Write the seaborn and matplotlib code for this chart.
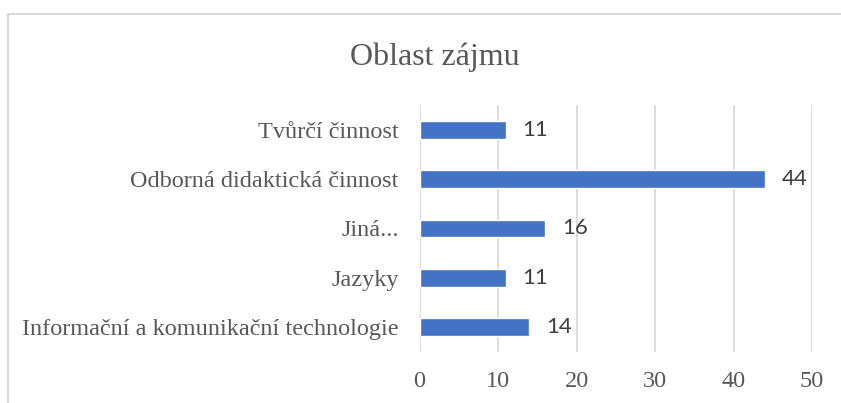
import matplotlib
matplotlib.use("Agg")
import matplotlib.pyplot as plt
import seaborn as sns
import pandas as pd
from matplotlib.patches import Rectangle

categories = ["Tvůrčí činnost", "Odborná didaktická činnost", "Jiná...", "Jazyky",
              "Informační a komunikační technologie"]
values = [11, 44, 16, 11, 14]
x_ticks = [0, 10, 20, 30, 40, 50]

sns.set_theme(style="white")
plt.rcParams['font.family'] = ['Liberation Serif', 'DejaVu Serif']

df = pd.DataFrame({"cat": categories, "val": values})

fig = plt.figure(figsize=(8.41, 4.03), dpi=100)
ax = fig.add_axes([419.5 / 841, 1 - 352 / 403, (812 - 419.5) / 841, (352 - 105) / 403])

sns.barplot(data=df, x="val", y="cat", order=categories, color="#4472C4",
            width=0.36, saturation=1, ax=ax, orient="h")

ax.set_xlim(0, 50)
ax.set_ylim(4.5, -0.5)
ax.set_xticks(x_ticks)
ax.set_xlabel("")
ax.set_ylabel("")
ax.grid(axis="x", color="#d9d9d9", linewidth=1.3)
ax.set_axisbelow(True)
for s in ax.spines.values():
    s.set_visible(False)
ax.tick_params(axis="both", length=0, colors="#595959", labelsize=17.5)
ax.tick_params(axis="y", pad=15)
ax.tick_params(axis="x", pad=14)

for c in ax.containers:
    ax.bar_label(c, padding=12, fontsize=16, color="#404040", family=["Lato", "DejaVu Sans"])

fig.text(435 / 841, 1 - 65 / 403, "Oblast zájmu", ha="center", va="baseline",
         fontsize=23, color="#595959")

fig.patches.append(Rectangle((8 / 841, -0.1), 1.2, 1 - 14 / 403 + 0.1, transform=fig.transFigure,
                             fill=False, edgecolor="#d9d9d9", linewidth=1.5, zorder=0))

fig.savefig("out.png", dpi=100, facecolor="white")
